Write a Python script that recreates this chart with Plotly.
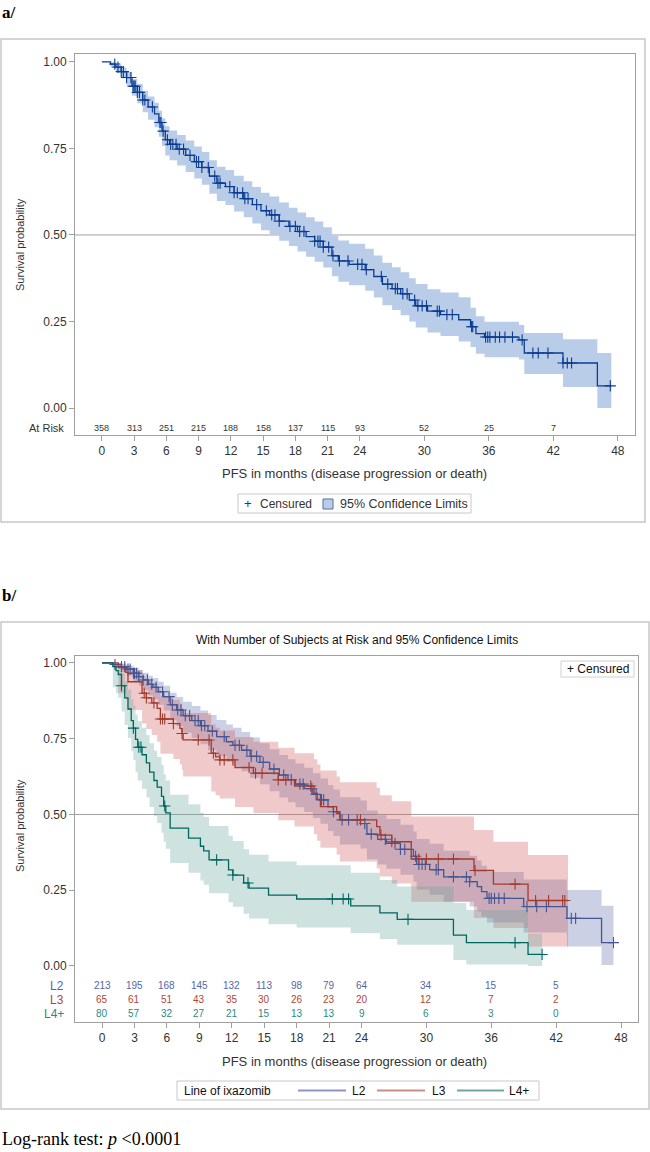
import numpy as np
import plotly.graph_objects as go

W, H = 650, 1152
def px(x): return x / W
def py(y): return 1 - y / H

FONT = "Liberation Sans, Arial, sans-serif"
SERIF = "Liberation Serif, Times New Roman, serif"

# ---------------- Panel a : overall PFS ----------------
a_time = [0, 0.8, 1.3, 1.8, 2.3, 2.8, 3.3, 3.8, 4.3, 4.9, 5.3, 5.6, 5.9, 6.3, 7.0, 7.8, 8.6, 9.3,
          10.0, 10.7, 11.5, 12.3, 13.2, 14.0, 14.8, 15.6, 16.5, 17.4, 18.2, 19.0, 19.8, 20.6,
          21.4, 22.0, 23.0, 24.5, 25.3, 26.1, 27.0, 27.8, 28.6, 29.2, 30.3, 31.5, 33.2, 34.3,
          34.8, 35.6, 38.8, 39.3, 42.9, 46.1, 47.4]
a_surv = [1.000, 0.994, 0.985, 0.972, 0.955, 0.930, 0.912, 0.890, 0.870, 0.850, 0.825, 0.800,
          0.775, 0.762, 0.748, 0.730, 0.712, 0.695, 0.670, 0.650, 0.640, 0.622, 0.605, 0.588,
          0.570, 0.558, 0.540, 0.525, 0.510, 0.495, 0.482, 0.465, 0.440, 0.425, 0.415, 0.400,
          0.380, 0.358, 0.345, 0.330, 0.312, 0.295, 0.280, 0.270, 0.255, 0.235, 0.215, 0.205,
          0.197, 0.159, 0.130, 0.064, 0.064]
a_lower = [1.000, 0.984, 0.970, 0.953, 0.932, 0.902, 0.881, 0.855, 0.833, 0.811, 0.784, 0.757,
           0.730, 0.716, 0.701, 0.682, 0.663, 0.645, 0.619, 0.598, 0.587, 0.568, 0.551, 0.533,
           0.514, 0.502, 0.483, 0.468, 0.452, 0.437, 0.423, 0.406, 0.381, 0.365, 0.355, 0.339,
           0.319, 0.297, 0.283, 0.268, 0.250, 0.233, 0.218, 0.208, 0.192, 0.176, 0.157, 0.147,
           0.140, 0.098, 0.061, 0.000, 0.000]
a_upper = [1.000, 0.999, 0.993, 0.984, 0.971, 0.951, 0.936, 0.917, 0.900, 0.882, 0.859, 0.837,
           0.814, 0.802, 0.789, 0.773, 0.756, 0.740, 0.716, 0.697, 0.688, 0.671, 0.655, 0.639,
           0.622, 0.611, 0.594, 0.579, 0.565, 0.551, 0.539, 0.522, 0.498, 0.484, 0.475, 0.460,
           0.441, 0.420, 0.407, 0.392, 0.375, 0.358, 0.343, 0.334, 0.320, 0.290, 0.265, 0.249,
           0.240, 0.217, 0.199, 0.159, 0.159]
a_censor = [1.2, 1.5, 1.8, 2.0, 2.3, 2.7, 2.9, 3.0, 3.1, 3.3, 3.5, 3.8, 4.0, 4.7, 5.4, 5.5, 5.7,
            6.1, 6.4, 6.6, 6.9, 7.2, 7.6, 8.2, 8.8, 9.0, 9.3, 9.9, 10.5, 10.8, 11.0, 11.9, 12.3,
            12.6, 13.1, 13.3, 13.6, 14.4, 15.3, 15.8, 16.1, 16.5, 17.5, 18.0, 18.4, 18.8, 19.8,
            20.1, 20.3, 20.6, 21.1, 21.5, 22.1, 22.9, 23.8, 24.2, 24.6, 26.0, 26.6, 27.3, 27.5,
            28.0, 28.4, 29.1, 29.4, 29.8, 30.2, 31.2, 31.4, 32.1, 32.6, 34.4, 34.5, 35.7, 35.9,
            36.1, 36.6, 37.0, 37.5, 38.2, 39.1, 40.1, 40.6, 41.5, 42.9, 43.3, 43.7, 47.3]

risk_times = [0, 3, 6, 9, 12, 15, 18, 21, 24, 30, 36, 42]
a_risk = [358, 313, 251, 215, 188, 158, 137, 115, 93, 52, 25, 7]
x_ticks = [0, 3, 6, 9, 12, 15, 18, 21, 24, 30, 36, 42, 48]

# ---------------- Panel b : by line of ixazomib ----------------
groups = ["L2", "L3", "L4+"]

l2_time = [0, 1.0, 1.8, 2.3, 2.9, 3.4, 3.8, 4.3, 4.7, 5.2, 5.7, 6.3, 6.9, 7.5, 8.3, 9.1, 9.8, 10.6,
           11.5, 12.1, 12.9, 13.7, 14.6, 15.5, 16.4, 17.2, 17.9, 18.7, 19.5, 20.2, 20.9, 21.4,
           22.0, 23.9, 24.5, 25.5, 26.3, 27.6, 28.8, 29.1, 30.3, 31.6, 34.0, 34.7, 35.1, 35.6,
           39.0, 43.0, 46.2, 47.3]
l2_surv = [1.0, 0.995, 0.988, 0.980, 0.966, 0.955, 0.944, 0.930, 0.920, 0.905, 0.889, 0.862,
           0.845, 0.826, 0.810, 0.793, 0.775, 0.757, 0.740, 0.728, 0.712, 0.692, 0.672, 0.650,
           0.630, 0.615, 0.600, 0.585, 0.566, 0.548, 0.525, 0.509, 0.482, 0.470, 0.435, 0.418,
           0.405, 0.385, 0.362, 0.335, 0.318, 0.294, 0.278, 0.262, 0.245, 0.223, 0.196, 0.157,
           0.077, 0.077]
l2_lower = [1.0, 0.985, 0.970, 0.958, 0.940, 0.925, 0.910, 0.893, 0.880, 0.862, 0.843, 0.812,
            0.792, 0.770, 0.752, 0.732, 0.712, 0.692, 0.673, 0.660, 0.643, 0.621, 0.600, 0.577,
            0.556, 0.540, 0.524, 0.508, 0.488, 0.469, 0.445, 0.429, 0.401, 0.388, 0.352, 0.335,
            0.321, 0.301, 0.278, 0.252, 0.235, 0.212, 0.196, 0.180, 0.163, 0.143, 0.110, 0.064,
            0.003, 0.003]
l2_upper = [1.0, 1.0, 0.996, 0.992, 0.984, 0.977, 0.968, 0.958, 0.950, 0.938, 0.925, 0.902,
            0.888, 0.872, 0.858, 0.843, 0.828, 0.812, 0.797, 0.786, 0.772, 0.754, 0.735, 0.715,
            0.696, 0.682, 0.668, 0.654, 0.636, 0.619, 0.597, 0.582, 0.557, 0.546, 0.513, 0.497,
            0.485, 0.466, 0.444, 0.419, 0.403, 0.380, 0.364, 0.348, 0.331, 0.310, 0.285, 0.251,
            0.199, 0.199]
l2_censor = [1.2, 1.8, 2.1, 2.4, 2.6, 2.9, 3.0, 3.2, 3.4, 3.8, 4.2, 4.6, 5.0, 5.6, 6.2, 6.5, 7.0,
             7.3, 7.7, 8.1, 8.6, 8.9, 9.2, 9.5, 10.2, 11.3, 12.3, 12.7, 13.4, 13.8, 14.3, 14.9,
             15.9, 16.8, 17.5, 18.3, 18.6, 19.4, 19.8, 20.3, 20.5, 21.4, 22.2, 22.8, 23.6, 24.3,
             24.9, 26.2, 27.1, 27.6, 28.0, 29.0, 29.3, 29.6, 29.9, 30.9, 31.1, 32.5, 33.7, 34.0,
             35.8, 36.0, 36.3, 36.7, 37.2, 39.3, 40.2, 41.1, 43.4, 43.8, 47.3]

l3_time = [0, 1.5, 2.2, 2.4, 3.7, 4.1, 4.6, 5.1, 5.4, 6.6, 7.2, 7.4, 7.5, 10.1, 10.5, 10.9, 12.3,
           14.0, 16.3, 17.8, 19.6, 19.9, 20.2, 21.7, 22.0, 25.4, 25.7, 26.8, 28.6, 34.4, 36.2,
           39.4, 43.1]
l3_surv = [1.0, 0.985, 0.969, 0.938, 0.900, 0.885, 0.868, 0.850, 0.815, 0.800, 0.784, 0.767,
           0.746, 0.702, 0.690, 0.680, 0.655, 0.636, 0.614, 0.594, 0.570, 0.550, 0.526, 0.504,
           0.482, 0.460, 0.432, 0.410, 0.353, 0.315, 0.270, 0.216, 0.216]
l3_lower = [1.0, 0.900, 0.880, 0.845, 0.800, 0.782, 0.762, 0.740, 0.700, 0.683, 0.665, 0.647,
            0.625, 0.576, 0.563, 0.553, 0.525, 0.505, 0.481, 0.460, 0.435, 0.413, 0.390, 0.368,
            0.345, 0.322, 0.295, 0.272, 0.212, 0.158, 0.125, 0.064, 0.064]
l3_upper = [1.0, 0.998, 0.990, 0.977, 0.952, 0.942, 0.930, 0.917, 0.890, 0.879, 0.866, 0.852,
            0.835, 0.797, 0.786, 0.777, 0.756, 0.740, 0.720, 0.702, 0.682, 0.665, 0.645, 0.625,
            0.606, 0.588, 0.563, 0.544, 0.493, 0.449, 0.410, 0.366, 0.366]
l3_censor = [3.9, 4.1, 4.8, 5.4, 5.6, 5.8, 6.6, 7.4, 8.9, 9.9, 10.3, 10.9, 11.3, 12.1, 13.6, 14.2,
             14.8, 16.3, 17.0, 19.3, 23.9, 25.8, 26.8, 29.3, 30.0, 31.1, 32.5, 34.5, 38.2, 40.1,
             41.3, 42.6, 42.8]

l4_time = [0, 1.0, 1.3, 1.5, 1.8, 2.1, 2.4, 2.7, 2.9, 3.1, 3.3, 3.7, 4.1, 4.4, 4.8, 5.1, 5.5, 5.7,
           5.9, 6.3, 8.0, 9.1, 9.4, 9.9, 11.7, 12.1, 13.1, 13.6, 15.4, 18.0, 23.0, 25.7, 27.3,
           32.5, 33.7, 39.4, 40.7]
l4_surv = [1.0, 0.988, 0.975, 0.962, 0.925, 0.885, 0.848, 0.810, 0.785, 0.748, 0.722, 0.697,
           0.670, 0.640, 0.612, 0.590, 0.560, 0.528, 0.505, 0.455, 0.422, 0.395, 0.380, 0.350,
           0.317, 0.300, 0.274, 0.257, 0.234, 0.221, 0.198, 0.175, 0.154, 0.102, 0.077, 0.038,
           0.038]
l4_lower = [1.0, 0.920, 0.900, 0.885, 0.840, 0.795, 0.752, 0.710, 0.680, 0.640, 0.612, 0.585,
            0.556, 0.525, 0.495, 0.472, 0.440, 0.410, 0.387, 0.340, 0.308, 0.282, 0.268, 0.240,
            0.210, 0.195, 0.172, 0.157, 0.138, 0.127, 0.108, 0.089, 0.070, 0.020, 0.005, 0.000,
            0.000]
l4_upper = [1.0, 0.998, 0.995, 0.990, 0.968, 0.940, 0.912, 0.880, 0.860, 0.830, 0.808, 0.786,
            0.762, 0.735, 0.710, 0.690, 0.663, 0.633, 0.612, 0.565, 0.534, 0.506, 0.492, 0.462,
            0.430, 0.412, 0.385, 0.367, 0.345, 0.332, 0.308, 0.284, 0.262, 0.208, 0.185, 0.106,
            0.106]
l4_censor = [1.8, 2.9, 3.4, 3.6, 5.8, 10.6, 12.1, 13.5, 21.3, 22.3, 22.8, 28.3, 38.2, 40.7]

b_risk = {
    "L2": [213, 195, 168, 145, 132, 113, 98, 79, 64, 34, 15, 5],
    "L3": [65, 61, 51, 43, 35, 30, 26, 23, 20, 12, 7, 2],
    "L4+": [80, 57, 32, 27, 21, 15, 13, 13, 9, 6, 3, 0],
}

# ---------------- styles ----------------
A_LINE = "#0b3c94"
A_BAND = "#b9cde8"
B_LINE = {"L2": "#445694", "L3": "#A23A2E", "L4+": "#01665E"}
B_BAND = {"L2": "rgba(111,126,179,0.36)", "L3": "rgba(208,91,91,0.32)", "L4+": "rgba(102,165,160,0.32)"}
B_TEXT = {"L2": "#5666a6", "L3": "#b0463a", "L4+": "#2a8a7f"}
B_LEG = {"L2": "#8e97c4", "L3": "#c98d86", "L4+": "#6fa8a2"}


def surv_at(times, surv, pts):
    t = np.asarray(times)
    s = np.asarray(surv)
    idx = np.searchsorted(t, np.asarray(pts), side="right") - 1
    return s[idx]


fig = go.Figure()

# panel a band + curve
fig.add_trace(go.Scatter(x=a_time, y=a_lower, mode="lines", line=dict(width=0, shape="hv"),
                         hoverinfo="skip", showlegend=False, xaxis="x", yaxis="y"))
fig.add_trace(go.Scatter(x=a_time, y=a_upper, mode="lines", line=dict(width=0, shape="hv"),
                         fill="tonexty", fillcolor=A_BAND, hoverinfo="skip", showlegend=False,
                         xaxis="x", yaxis="y"))
fig.add_trace(go.Scatter(x=a_time, y=a_surv, mode="lines", line=dict(color=A_LINE, width=1.3, shape="hv"),
                         showlegend=False, xaxis="x", yaxis="y"))
fig.add_trace(go.Scatter(x=a_censor, y=surv_at(a_time, a_surv, a_censor), mode="markers",
                         marker=dict(symbol="cross-thin", size=8, line=dict(color=A_LINE, width=1.1)),
                         showlegend=False, xaxis="x", yaxis="y"))

# panel b bands
b_data = {
    "L2": (l2_time, l2_surv, l2_lower, l2_upper, l2_censor),
    "L3": (l3_time, l3_surv, l3_lower, l3_upper, l3_censor),
    "L4+": (l4_time, l4_surv, l4_lower, l4_upper, l4_censor),
}
for g in groups:
    t, s, lo, up, c = b_data[g]
    fig.add_trace(go.Scatter(x=t, y=lo, mode="lines", line=dict(width=0, shape="hv"),
                             hoverinfo="skip", showlegend=False, xaxis="x2", yaxis="y2"))
    fig.add_trace(go.Scatter(x=t, y=up, mode="lines", line=dict(width=0, shape="hv"), fill="tonexty",
                             fillcolor=B_BAND[g], hoverinfo="skip", showlegend=False,
                             xaxis="x2", yaxis="y2"))
for g in groups:
    t, s, lo, up, c = b_data[g]
    fig.add_trace(go.Scatter(x=t, y=s, mode="lines", name=g,
                             line=dict(color=B_LINE[g], width=1.3, shape="hv"),
                             showlegend=False, xaxis="x2", yaxis="y2"))
    fig.add_trace(go.Scatter(x=c, y=surv_at(t, s, c), mode="markers",
                             marker=dict(symbol="cross-thin", size=8, line=dict(color=B_LINE[g], width=1.1)),
                             showlegend=False, xaxis="x2", yaxis="y2"))

axis_common = dict(showline=True, mirror=True, linecolor="#a0a0a0", linewidth=1, ticks="outside",
                   ticklen=5, tickcolor="#a0a0a0", showgrid=False, zeroline=False,
                   tickfont=dict(family=FONT, size=12, color="#333333"))
y_common = dict(axis_common, tickvals=[0, 0.25, 0.5, 0.75, 1.0],
                ticktext=["0.00", "0.25", "0.50", "0.75", "1.00"])

annotations = []
shapes = []

def text(x, y, s, size=12, color="#333333", xanchor="center", family=FONT, **kw):
    annotations.append(dict(x=px(x), y=py(y), xref="paper", yref="paper", text=s, showarrow=False,
                            xanchor=xanchor, yanchor="middle",
                            font=dict(family=family, size=size, color=color), **kw))

def rect(x0, y0, x1, y1, color="#c8c8c8", width=1.5, fill="rgba(0,0,0,0)"):
    shapes.append(dict(type="rect", xref="paper", yref="paper", x0=px(x0), x1=px(x1), y0=py(y1),
                       y1=py(y0), line=dict(color=color, width=width), fillcolor=fill, layer="below"))

def hline(x0, x1, y, color, width=2):
    shapes.append(dict(type="line", xref="paper", yref="paper", x0=px(x0), x1=px(x1), y0=py(y),
                       y1=py(y), line=dict(color=color, width=width)))

# panel labels
text(0, 13, "<b>a/</b>", size=17, color="#000000", xanchor="left", family=SERIF)
text(0, 595, "<b>b/</b>", size=17, color="#000000", xanchor="left", family=SERIF)
text(0, 1139, "Log-rank test: <i>p</i> &lt;0.0001", size=18, color="#000000", xanchor="left", family=SERIF)

# outer frames
rect(1, 39, 645, 522)
rect(1, 622, 649, 1109)

# 0.5 reference lines
for ya in ["y", "y2"]:
    shapes.append(dict(type="line", xref="x domain" if ya == "y" else "x2 domain", yref=ya,
                       x0=0, x1=1, y0=0.5, y1=0.5, line=dict(color="#a0a0a0", width=1), layer="below"))

# y-axis titles
text(20, 245, "Survival probability", size=11, color="#333333", textangle=-90)
text(20, 826, "Survival probability", size=11, color="#333333", textangle=-90)

# x-axis titles
text(354, 473, "PFS in months (disease progression or death)", size=13)
text(354, 1061, "PFS in months (disease progression or death)", size=13)

# panel b title
text(357, 640, "With Number of Subjects at Risk and 95% Confidence Limits", size=12, color="#111111")

# panel a at risk
text(66, 428, "At Risk", size=11, xanchor="right")
for t, n in zip(risk_times, a_risk):
    annotations.append(dict(x=t, y=-0.058, xref="x", yref="y", text=str(n), showarrow=False,
                            font=dict(family=FONT, size=9, color="#333333")))

# panel b at risk
for g, yy, yd in zip(groups, [986, 1000, 1014], [-0.066, -0.112, -0.158]):
    text(66, yy, g, size=12, color=B_TEXT[g], xanchor="right")
    for t, n in zip(risk_times, b_risk[g]):
        annotations.append(dict(x=t, y=yd, xref="x2", yref="y2", text=str(n), showarrow=False,
                                font=dict(family=FONT, size=10, color=B_TEXT[g])))

# panel a legend
rect(238, 494, 471, 513, color="#c8c8c8", width=1)
text(248, 503.5, "+", size=13, color=A_LINE)
text(258, 503.5, "Censured", size=12, xanchor="left")
rect(323, 499, 333, 509, color="#5b6f9c", width=1, fill=A_BAND)
text(338, 503.5, "95% Confidence Limits", size=12.5, xanchor="left")

# panel b inset legend
rect(561, 661, 634, 677, color="#d0d0d0", width=1, fill="#ffffff")
text(565, 669, "+ Censured", size=12, xanchor="left", color="#111111")

# panel b bottom legend
rect(177, 1081, 539, 1100, color="#c8c8c8", width=1)
text(182, 1090.5, "Line of ixazomib", size=12, xanchor="left", color="#111111")
for g, x0, x1, xt in zip(groups, [298, 377, 457], [346, 425, 504], [350, 430, 507]):
    hline(x0, x1, 1090.5, B_LEG[g], width=2)
    text(xt, 1090.5, g, size=12, xanchor="left", color="#111111")

fig.update_layout(
    width=W, height=H, autosize=False, margin=dict(l=0, r=0, t=0, b=0),
    paper_bgcolor="#ffffff", plot_bgcolor="#ffffff", showlegend=False,
    xaxis=dict(axis_common, domain=[px(75), px(635)], range=[-2.5, 49.6], tickvals=x_ticks, anchor="y"),
    yaxis=dict(y_common, domain=[py(435), py(54)], range=[-0.078, 1.023], anchor="x"),
    xaxis2=dict(axis_common, domain=[px(75), px(638)], range=[-2.5, 49.57], tickvals=x_ticks, anchor="y2"),
    yaxis2=dict(y_common, domain=[py(1022), py(656)], range=[-0.185, 1.023], anchor="x2"),
    annotations=annotations, shapes=shapes,
)

fig.write_html("out.html", config={"displayModeBar": False},
               post_script="document.body.style.margin='0px';document.body.style.overflow='hidden';")
